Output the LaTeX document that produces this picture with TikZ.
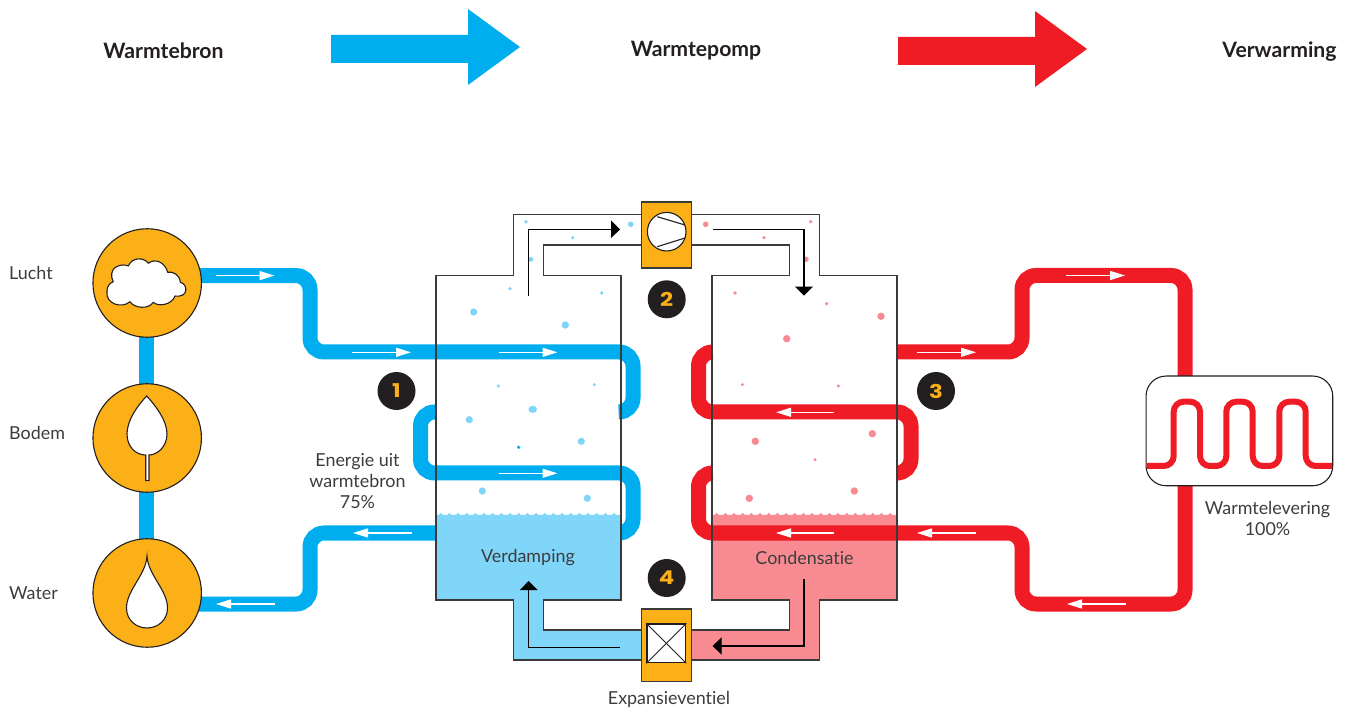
\documentclass[tikz,border=0pt]{standalone}
\usepackage{fontspec}
\setmainfont{Lato}[Ligatures=NoCommon]
\newfontfamily\badgefont{Poppins}
\usetikzlibrary{arrows.meta,backgrounds}
\definecolor{hpblue}{HTML}{00AEEF}
\definecolor{hpred}{HTML}{EF1C25}
\definecolor{hplblue}{HTML}{80D6F8}
\definecolor{hplred}{HTML}{F78B91}
\definecolor{hporange}{HTML}{FBB017}
\definecolor{hpdark}{HTML}{231F20}
\definecolor{hpline}{HTML}{3A3A3A}
\definecolor{hptext}{HTML}{3C3C3E}
\tikzset{
  bluepipe/.style={draw=hpblue,line width=15pt,rounded corners=14pt},
  redpipe/.style={draw=hpred,line width=15pt,rounded corners=14pt},
  wall/.style={draw=hpline,line width=1.4pt,line join=miter},
  flowarrow/.style={draw=white,line width=1.4pt,-{Triangle[length=15pt,width=9pt,fill=white]}},
  flowblack/.style={draw=black,line width=1.4pt,-{Triangle[length=9pt,width=17.5pt,fill=black]}},
  source/.style={circle,draw=hpdark,line width=1.1pt,fill=hporange,minimum size=108.5pt,inner sep=0pt},
  icon/.style={draw=hpdark,line width=1.1pt,fill=white},
  badge/.style={circle,fill=hpdark,minimum size=38pt,inner sep=0pt,text=hporange,font=\badgefont\bfseries\fontsize{19}{19}\selectfont},
  heading/.style={font=\bfseries\fontsize{21.2}{24}\selectfont,text=hpdark,inner sep=0pt},
  label/.style={font=\fontsize{17.9}{21}\selectfont,text=hptext,inner sep=0pt,align=center},
  devicebox/.style={rectangle,draw=hpline,line width=1.3pt,fill=hporange,inner sep=0pt},
}
\begin{document}
\begin{tikzpicture}[x=1pt,y=-1pt]
\useasboundingbox (0,0) rectangle (1353,708);

% header arrows
\fill[hpblue] (331,35) -- (468,35) -- (468,9) -- (520,47) -- (468,85) -- (468,63) -- (331,63) -- cycle;
\fill[hpred] (898,37) -- (1035,37) -- (1035,11) -- (1087,49) -- (1035,87) -- (1035,65) -- (898,65) -- cycle;
\node[heading] (hsrc) at (163.5,50.5) {Warmtebron};
\node[heading] (hpump) at (696,50.5) {Warmtepomp};
\node[heading] (hheat) at (1279.5,51.5) {Verwarming};

% sources
\node[source] (lucht) at (147.2,283) {};
\node[source] (bodem) at (147.2,438) {};
\node[source] (water) at (147.2,593) {};
\begin{scope}[on background layer]
  \draw[draw=hpblue,line width=15pt] ([xshift=-0.9pt]lucht.center) -- ([xshift=-0.9pt]bodem.center);
  \draw[draw=hpblue,line width=15pt] ([xshift=-0.9pt]bodem.center) -- ([xshift=-0.9pt]water.center);
  \draw[bluepipe] (147,275.6) -- (310,275.6) -- (310,352) -- (633,352) -- (633,412) -- (621,412);
  \draw[bluepipe] (436,533) -- (310,533) -- (310,604) -- (147,604);
\end{scope}
\draw[icon,line join=round]
  (111.7,273.3) .. controls (112,267) and (122,263) .. (128.3,266)
  .. controls (132,257) and (144,257) .. (148.3,263.3)
  .. controls (155,258) and (165,262) .. (167.7,272.3)
  .. controls (173,271) and (180,275) .. (180.3,282.3)
  .. controls (188,284) and (189,298) .. (175,296)
  .. controls (172,305) and (158,307) .. (153.3,302.3)
  .. controls (148,310) and (134,308) .. (130,301.7)
  .. controls (122,309) and (105,304) .. (107,291)
  .. controls (107,286) and (110,283) .. (113.3,281.7)
  .. controls (112,279) and (111,276) .. (111.7,273.3) -- cycle;
\draw[icon]
  (146.7,396) .. controls (155,405) and (167,420) .. (167,434)
  .. controls (167,447) and (157,455) .. (149,455) -- (149,480.7) -- (145.7,480.7) -- (145.7,455)
  .. controls (136,455) and (127,447) .. (127,434)
  .. controls (127,420) and (138,405) .. (146.7,396) -- cycle;
\draw[icon]
  (147,556) .. controls (148,575) and (167.5,590) .. (167.5,608)
  .. controls (167.5,620) and (158,628) .. (147,628)
  .. controls (136,628) and (126.5,620) .. (126.5,608)
  .. controls (126.5,590) and (146,575) .. (147,556) -- cycle;

\node[label,anchor=base west] (llucht) at (9,279.5) {Lucht};
\node[label,anchor=base west] (lbodem) at (9,439.5) {Bodem};
\node[label,anchor=base west] (lwater) at (9,599.5) {Water};

% pipes behind the tanks
\draw[bluepipe] (436,412) -- (420.5,412) -- (420.5,473) -- (633,473) -- (633,533) -- (621,533);
\draw[redpipe] (1185,376) -- (1185,275.5) -- (1022,275.5) -- (1022,352) -- (897,352);
\draw[redpipe] (712,352) -- (698.5,352) -- (698.5,412) -- (911,412) -- (911,473) -- (897,473);

% liquid
\fill[hplblue] (436,515) rectangle (621,600);
\fill[hplblue] (513.5,600) rectangle (543.7,660);
\fill[hplblue] (513.5,630) rectangle (641.7,660);
\fill[hplred] (712,515) rectangle (897,600);
\fill[hplred] (789.7,600) rectangle (819.7,660);
\fill[hplred] (691.7,630) rectangle (819.7,660);
\foreach \k in {0,...,20}{
  \pgfmathsetmacro{\px}{440.7+8.67*\k}
  \fill[hplblue] (\px-4.34,515.2) .. controls (\px-1.6,515.2) and (\px-0.6,514) .. (\px,512.7) .. controls (\px+0.6,514) and (\px+1.6,515.2) .. (\px+4.34,515.2) -- cycle;
  \pgfmathsetmacro{\qx}{716.7+8.67*\k}
  \fill[hplred] (\qx-4.34,515.2) .. controls (\qx-1.6,515.2) and (\qx-0.6,514) .. (\qx,512.7) .. controls (\qx+0.6,514) and (\qx+1.6,515.2) .. (\qx+4.34,515.2) -- cycle;
}

% red pipe crossing the liquid
\draw[redpipe] (712,473) -- (698.5,473) -- (698.5,533) -- (1022,533) -- (1022,604) -- (1185,604) -- (1185,486);

% droplets
\foreach \x/\y/\r in {526/221.7/1.9,630.7/224.3/2.8,572.7/237.7/1.8,530.7/259.3/2.5,510/288.7/1.8,601.7/293/1.8,473.7/312/3.6,565.3/325/3.7,498.3/386/1.7,594.3/384.7/1.7,469.3/419.7/3.6,581.3/441.3/3.6,482.3/491/3.6,587.3/498.3/3.6}
  \fill[hplblue] (\x,\y) circle (\r);
\fill[hplblue] (532.7,409.3) ellipse (4.3 and 3.6);
\fill[hpblue] (518.7,447.3) circle (1.8);
\foreach \x/\y/\r in {705.7/224.3/2.8,810.7/221.7/1.8,764/237.7/1.8,806/259.3/2.7,735/293/1.8,826.7/303.7/1.8,881/316.3/3.7,786.7/338.7/3.7,742.3/384.7/1.7,838.3/386/1.7,872.3/433.7/3.7,755.3/441.3/3.7,815/459.7/1.7,854.3/491/3.7,749.3/498.3/3.7}
  \fill[hplred] (\x,\y) circle (\r);

% tank walls
\draw[wall] (641.7,214.7) -- (513.5,214.7) -- (513.5,275.5) -- (436,275.5) -- (436,600) -- (513.5,600) -- (513.5,660) -- (641.7,660);
\draw[wall] (641.7,245) -- (543.7,245) -- (543.7,275.5) -- (621,275.5) -- (621,600) -- (543.7,600) -- (543.7,630) -- (641.7,630);
\draw[wall] (691.7,214.7) -- (819.7,214.7) -- (819.7,275.5) -- (897,275.5) -- (897,600) -- (819.7,600) -- (819.7,660) -- (691.7,660);
\draw[wall] (691.7,245) -- (789.7,245) -- (789.7,275.5) -- (712,275.5) -- (712,600) -- (789.7,600) -- (789.7,630) -- (691.7,630);

% compressor
\node[devicebox,minimum width=50pt,minimum height=66pt] (comp) at (666.7,235) {};
\node[circle,draw=hpdark,line width=1.1pt,fill=white,minimum size=38.6pt,inner sep=0pt] (rotor) at (666.7,231.7) {};
\draw[hpdark,line width=1.1pt] (657.3,216.7) -- (685,225);
\draw[hpdark,line width=1.1pt] (657.3,246.7) -- (685,238);

% valve
\node[devicebox,minimum width=50pt,minimum height=72.7pt] (valve) at (666.7,645.3) {};
\node[rectangle,draw=hpdark,line width=1.2pt,fill=white,minimum size=38.7pt,inner sep=0pt] (vbox) at (666.4,643.3) {};
\draw[hpdark,line width=0.9pt] (vbox.north west) -- (vbox.south east);
\draw[hpdark,line width=0.9pt] (vbox.north east) -- (vbox.south west);

% black flow arrows
\coordinate (f1) at (528.7,296);
\coordinate (f2) at (620,229.3);
\draw[flowblack] (f1) -- (528.7,229.3) -- (f2);
\coordinate (f3) at (712.5,229.3);
\coordinate (f4) at (804,295.7);
\draw[flowblack] (f3) -- (804,229.3) -- (f4);
\coordinate (f5) at (804,579);
\coordinate (f6) at (712.7,646);
\draw[flowblack] (f5) -- (804,646) -- (f6);
\coordinate (f7) at (620,647.7);
\coordinate (f8) at (528.7,581);
\draw[flowblack] (f7) -- (528.7,647.7) -- (f8);

% heat emitter
\node[rectangle,rounded corners=20pt,draw=hpdark,line width=1.1pt,fill=white,minimum width=186.7pt,minimum height=109.7pt,inner sep=0pt] (emit) at (1239.4,430.9) {};
\draw[hpred,line width=6pt,rounded corners=10pt]
  (1146.6,466) -- (1173.7,466) -- (1173.7,401.7) -- (1200,401.7) -- (1200,466) -- (1226.3,466) -- (1226.3,401.7)
  -- (1252.7,401.7) -- (1252.7,466) -- (1279.3,466) -- (1279.3,401.7) -- (1305.7,401.7) -- (1305.7,466) -- (1332.2,466);

% white flow arrows
\draw[flowarrow] (216,275.6) -- (274.5,275.6);
\draw[flowarrow] (352,352.3) -- (411,352.3);
\draw[flowarrow] (498.5,352.3) -- (557.5,352.3);
\draw[flowarrow] (498.5,473.3) -- (557.5,473.3);
\draw[flowarrow] (412,533) -- (353,533);
\draw[flowarrow] (275,604) -- (216,604);
\draw[flowarrow] (917,352.3) -- (976,352.3);
\draw[flowarrow] (834,412.3) -- (776,412.3);
\draw[flowarrow] (834,533) -- (776,533);
\draw[flowarrow] (976,533) -- (917,533);
\draw[flowarrow] (1066,275.5) -- (1125,275.5);
\draw[flowarrow] (1126,604) -- (1067,604);

% badges
\node[badge] (b1) at (396.5,391) {\scalebox{1.2}[1]{1}};
\node[badge] (b2) at (666.7,299.3) {\scalebox{1.2}[1]{2}};
\node[badge] (b3) at (936,391) {\scalebox{1.2}[1]{3}};
\node[badge] (b4) at (666.7,578) {\scalebox{1.2}[1]{4}};

% labels
\node[label] (lenergie) at (357.5,481.5) {Energie uit\\warmtebron\\75\%};
\node[label] (lverd) at (528,558) {Verdamping};
\node[label] (lcond) at (804.5,558) {Condensatie};
\node[label] (lexp) at (669,699.5) {Expansieventiel};
\node[label] (lwarm) at (1267.5,518) {Warmtelevering\\100\%};
\end{tikzpicture}
\end{document}
